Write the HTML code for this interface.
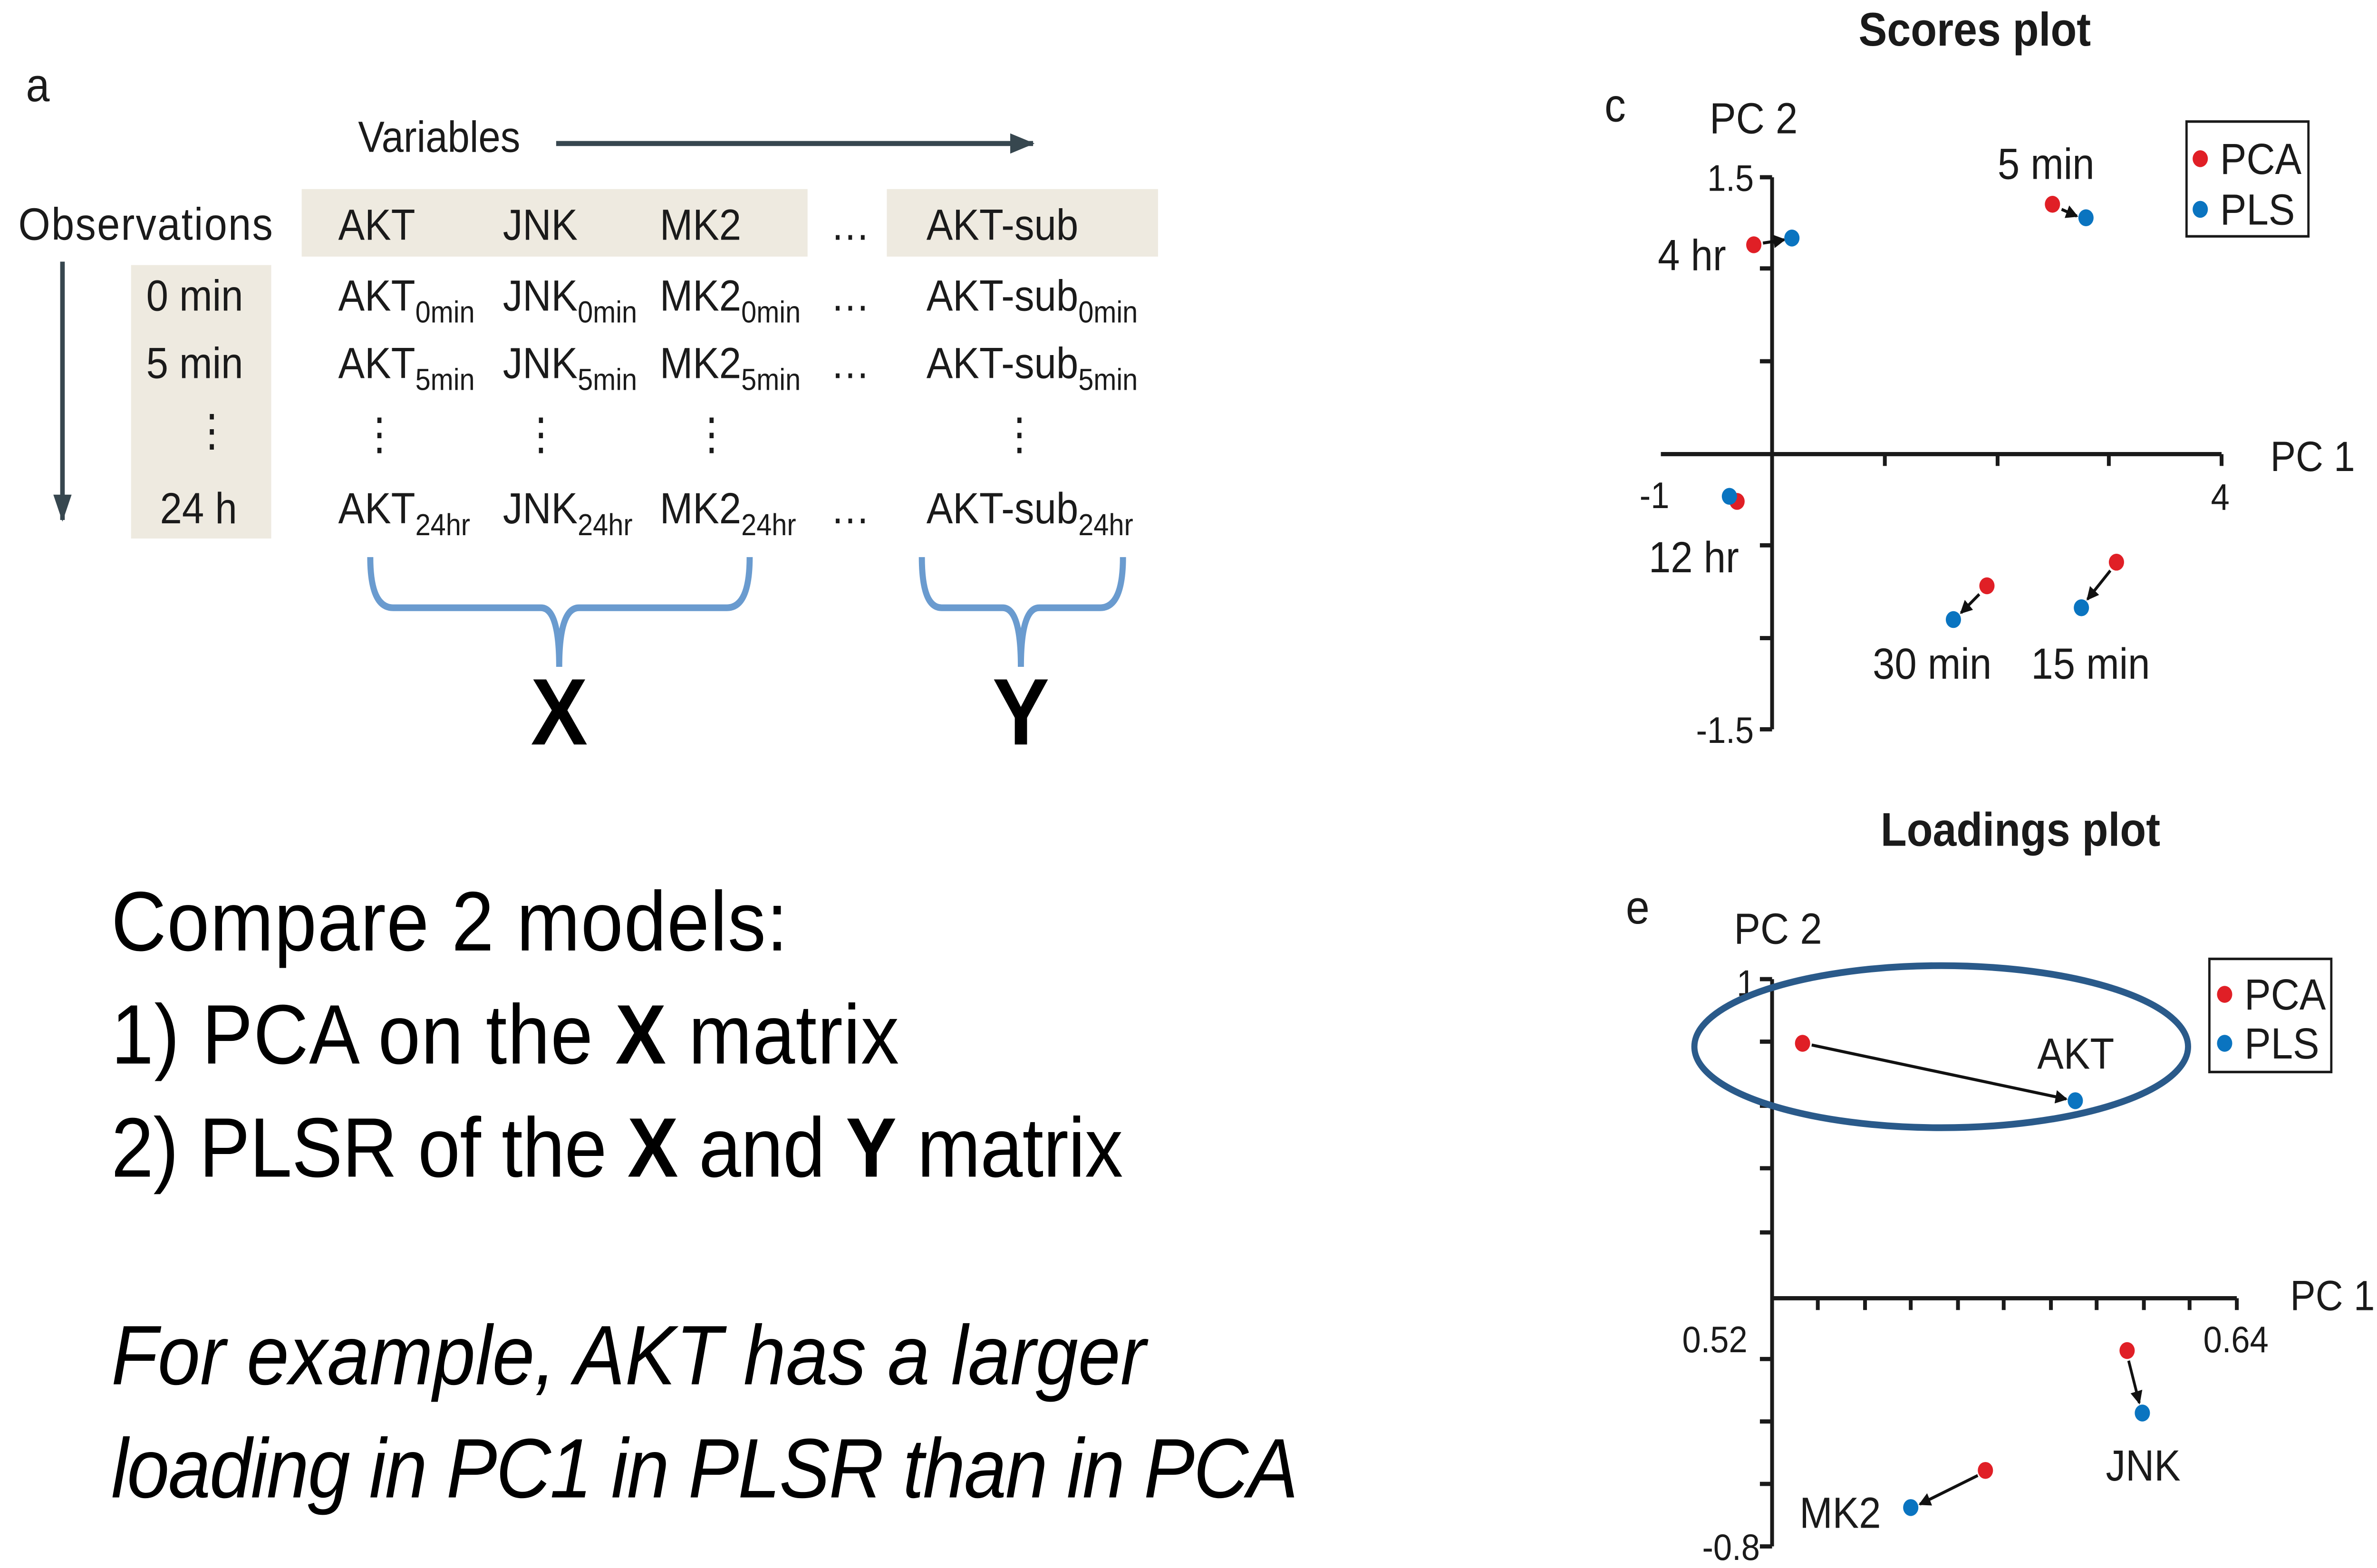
<!DOCTYPE html>
<html><head><meta charset="utf-8"><style>html,body{margin:0;padding:0;background:#fff;overflow:hidden;width:100%;height:100%}svg{display:block;width:100vw;height:100vh}</style></head><body>
<svg viewBox="0 0 1560 928.8" preserveAspectRatio="none" xmlns="http://www.w3.org/2000/svg" font-family="Liberation Sans, sans-serif" fill="#1a1a1a">
<defs><marker id="ah" markerWidth="8" markerHeight="8" refX="7" refY="4" orient="auto" markerUnits="userSpaceOnUse"><path d="M0,0 L8,4 L0,8 z" fill="#111"/></marker>
<marker id="ah2" markerWidth="16" markerHeight="12" refX="15" refY="6" orient="auto" markerUnits="userSpaceOnUse"><path d="M0,0 L16,6 L0,12 z" fill="#37474f"/></marker></defs>
<text x="17" y="60" font-size="28">a</text>
<text x="235" y="90" font-size="26">Variables</text>
<line x1="365" y1="85" x2="678" y2="85" stroke="#37474f" stroke-width="3" marker-end="url(#ah2)"/>
<rect x="198" y="112" width="332" height="40" fill="#eeeae0"/>
<rect x="582" y="112" width="178" height="40" fill="#eeeae0"/>
<rect x="86" y="157" width="92" height="162" fill="#eeeae0"/>
<line x1="41" y1="155" x2="41" y2="308" stroke="#37474f" stroke-width="3" marker-end="url(#ah2)"/>
<g font-size="26">
<text x="12" y="142" textLength="167" font-size="27">Observations</text>
<text x="222" y="142">AKT</text><text x="330" y="142">JNK</text><text x="433" y="142">MK2</text><text x="545" y="142">…</text><text x="608" y="142">AKT-sub</text>
<text x="96" y="184">0 min</text><text x="96" y="224">5 min</text><text x="126" y="264">⋮</text><text x="105" y="310">24 h</text>
<text x="222" y="184">AKT<tspan font-size="18" dy="7">0min</tspan></text>
<text x="330" y="184">JNK<tspan font-size="18" dy="7">0min</tspan></text>
<text x="433" y="184">MK2<tspan font-size="18" dy="7">0min</tspan></text>
<text x="545" y="184">…</text>
<text x="608" y="184">AKT-sub<tspan font-size="18" dy="7">0min</tspan></text>
<text x="222" y="224">AKT<tspan font-size="18" dy="7">5min</tspan></text>
<text x="330" y="224">JNK<tspan font-size="18" dy="7">5min</tspan></text>
<text x="433" y="224">MK2<tspan font-size="18" dy="7">5min</tspan></text>
<text x="545" y="224">…</text>
<text x="608" y="224">AKT-sub<tspan font-size="18" dy="7">5min</tspan></text>
<text x="236" y="266">⋮</text><text x="342" y="266">⋮</text><text x="454" y="266">⋮</text><text x="656" y="266">⋮</text>
<text x="222" y="310">AKT<tspan font-size="18" dy="7">24hr</tspan></text>
<text x="330" y="310">JNK<tspan font-size="18" dy="7">24hr</tspan></text>
<text x="433" y="310">MK2<tspan font-size="18" dy="7">24hr</tspan></text>
<text x="545" y="310">…</text>
<text x="608" y="310">AKT-sub<tspan font-size="18" dy="7">24hr</tspan></text>
</g>
<g fill="none" stroke="#6a9bcf" stroke-width="4">
<path d="M243,330 Q243,360 258,360 L355,360 Q367,360 367,395 Q367,360 380,360 L477,360 Q492,360 492,330"/>
<path d="M605,330 Q605,360 618,360 L658,360 Q670,360 670,395 Q670,360 682,360 L722,360 Q737,360 737,330"/>
</g>
<text x="367" y="441" font-size="56" font-weight="bold" text-anchor="middle" fill="#000">X</text>
<text x="670" y="441" font-size="56" font-weight="bold" text-anchor="middle" fill="#000">Y</text>
<g font-size="50" fill="#000">
<text x="73" y="563" textLength="444">Compare 2 models:</text>
<text x="73" y="630" textLength="517">1) PCA on the <tspan font-weight="bold">X</tspan> matrix</text>
<text x="73" y="697" textLength="664">2) PLSR of the <tspan font-weight="bold">X</tspan> and <tspan font-weight="bold">Y</tspan> matrix</text>
<text x="73" y="820" font-style="italic" textLength="679">For example, AKT has a larger</text>
<text x="73" y="887" font-style="italic" textLength="779">loading in PC1 in PLSR than in PCA</text>
</g>
<text x="1296" y="27" font-size="28" font-weight="bold" text-anchor="middle">Scores plot</text>
<text x="1053" y="72" font-size="28">c</text>
<text x="1122" y="79" font-size="26">PC 2</text>
<text x="1490" y="279" font-size="25">PC 1</text>
<g stroke="#1a1a1a" stroke-width="2.5" fill="none">
<line x1="1163" y1="105" x2="1163" y2="432"/><line x1="1155" y1="105" x2="1163" y2="105"/><line x1="1155" y1="432" x2="1163" y2="432"/>
<line x1="1155" y1="159" x2="1163" y2="159"/><line x1="1155" y1="214" x2="1163" y2="214"/><line x1="1155" y1="323" x2="1163" y2="323"/><line x1="1155" y1="378" x2="1163" y2="378"/>
<line x1="1090" y1="269" x2="1458" y2="269"/>
<line x1="1237" y1="269" x2="1237" y2="276"/><line x1="1311" y1="269" x2="1311" y2="276"/><line x1="1384" y1="269" x2="1384" y2="276"/><line x1="1458" y1="269" x2="1458" y2="276"/>
</g>
<g font-size="22">
<text x="1151" y="113" text-anchor="end">1.5</text><text x="1151" y="440" text-anchor="end">-1.5</text>
<text x="1076" y="301">-1</text><text x="1451" y="302">4</text>
</g>
<g font-size="26">
<text x="1088" y="160">4 hr</text><text x="1311" y="106">5 min</text><text x="1082" y="339">12 hr</text>
<text x="1229" y="402">30 min</text><text x="1333" y="402">15 min</text>
</g>
<g stroke="#111" stroke-width="1.8">
<line x1="1157" y1="144" x2="1171" y2="142" marker-end="url(#ah)"/>
<line x1="1353" y1="124" x2="1363" y2="128" marker-end="url(#ah)"/>
<line x1="1299" y1="352" x2="1287" y2="363" marker-end="url(#ah)"/>
<line x1="1385" y1="338" x2="1370" y2="355" marker-end="url(#ah)"/>
</g>
<g fill="#e01f26"><circle cx="1151" cy="145" r="5"/><circle cx="1347" cy="121" r="5"/><circle cx="1140" cy="297" r="5"/><circle cx="1304" cy="347" r="5"/><circle cx="1389" cy="333" r="5"/></g>
<g fill="#0a74c0"><circle cx="1176" cy="141" r="5"/><circle cx="1369" cy="129" r="5"/><circle cx="1135" cy="294" r="5"/><circle cx="1282" cy="367" r="5"/><circle cx="1366" cy="360" r="5"/></g>
<rect x="1435" y="72" width="80" height="68" fill="none" stroke="#1a1a1a" stroke-width="1.5"/>
<circle cx="1444" cy="94" r="5" fill="#e01f26"/><circle cx="1444" cy="124" r="5" fill="#0a74c0"/>
<text x="1457" y="103" font-size="26">PCA</text><text x="1457" y="133" font-size="26">PLS</text>
<text x="1326" y="501" font-size="28" font-weight="bold" text-anchor="middle">Loadings plot</text>
<text x="1067" y="547" font-size="28">e</text>
<text x="1138" y="559" font-size="26">PC 2</text>
<text x="1503" y="776" font-size="25">PC 1</text>
<g stroke="#1a1a1a" stroke-width="2.5" fill="none">
<line x1="1163" y1="580" x2="1163" y2="916"/><line x1="1155" y1="580" x2="1163" y2="580"/><line x1="1155" y1="916" x2="1163" y2="916"/>
<line x1="1155" y1="617" x2="1163" y2="617"/><line x1="1155" y1="655" x2="1163" y2="655"/><line x1="1155" y1="692" x2="1163" y2="692"/><line x1="1155" y1="730" x2="1163" y2="730"/>
<line x1="1155" y1="805" x2="1163" y2="805"/><line x1="1155" y1="842" x2="1163" y2="842"/><line x1="1155" y1="879" x2="1163" y2="879"/>
<line x1="1163" y1="769" x2="1468" y2="769"/>
<line x1="1193" y1="769" x2="1193" y2="776"/><line x1="1224" y1="769" x2="1224" y2="776"/><line x1="1254" y1="769" x2="1254" y2="776"/><line x1="1285" y1="769" x2="1285" y2="776"/><line x1="1315" y1="769" x2="1315" y2="776"/><line x1="1346" y1="769" x2="1346" y2="776"/><line x1="1376" y1="769" x2="1376" y2="776"/><line x1="1407" y1="769" x2="1407" y2="776"/><line x1="1437" y1="769" x2="1437" y2="776"/><line x1="1468" y1="769" x2="1468" y2="776"/>
</g>
<g font-size="22">
<text x="1104" y="801">0.52</text><text x="1446" y="801">0.64</text>
<text x="1152" y="590" text-anchor="end">1</text><text x="1155" y="924" text-anchor="end">-0.8</text>
</g>
<ellipse cx="1274" cy="620" rx="162" ry="48" fill="none" stroke="#2a5a8a" stroke-width="4"/>
<g font-size="26"><text x="1337" y="633">AKT</text><text x="1382" y="877">JNK</text><text x="1181" y="905">MK2</text></g>
<g stroke="#111" stroke-width="1.8">
<line x1="1189" y1="619" x2="1356" y2="651" marker-end="url(#ah)"/>
<line x1="1397" y1="806" x2="1404" y2="831" marker-end="url(#ah)"/>
<line x1="1298" y1="874" x2="1260" y2="891" marker-end="url(#ah)"/>
</g>
<g fill="#e01f26"><circle cx="1183" cy="618" r="5"/><circle cx="1396" cy="800" r="5"/><circle cx="1303" cy="871" r="5"/></g>
<g fill="#0a74c0"><circle cx="1362" cy="652" r="5"/><circle cx="1406" cy="837" r="5"/><circle cx="1254" cy="893" r="5"/></g>
<rect x="1450" y="568" width="80" height="67" fill="none" stroke="#1a1a1a" stroke-width="1.5"/>
<circle cx="1460" cy="589" r="5" fill="#e01f26"/><circle cx="1460" cy="618" r="5" fill="#0a74c0"/>
<text x="1473" y="598" font-size="26">PCA</text><text x="1473" y="627" font-size="26">PLS</text>
</svg>
</body></html>
